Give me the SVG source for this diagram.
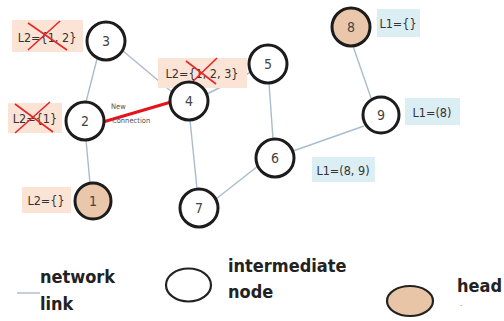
<svg xmlns="http://www.w3.org/2000/svg" width="504" height="321" viewBox="0 0 504 321">
<style>
.edge{stroke:#a9bccd;stroke-width:1.4;fill:none}
.node{stroke:#1c1c1c;stroke-width:3;fill:#ffffff}
.head{stroke:#1c1c1c;stroke-width:3;fill:#eac7ab}
.num{font-family:"DejaVu Sans Condensed","DejaVu Sans",sans-serif;font-size:14px;fill:#444;text-anchor:middle;dominant-baseline:central}
.lbl{font-family:"DejaVu Sans Condensed","DejaVu Sans",sans-serif;font-size:12.5px;fill:#333;text-anchor:middle;dominant-baseline:central}
.l2{fill:#fbe4d5}
.l1{fill:#dbeef4}
.x{stroke:#e5262b;stroke-width:1.6;fill:none}
.leg{font-family:"DejaVu Sans Condensed","DejaVu Sans",sans-serif;font-weight:bold;font-size:18px;fill:#222}
.small{font-family:"DejaVu Sans Condensed","DejaVu Sans",sans-serif;font-size:7.5px;fill:#555}
</style>
<rect width="504" height="321" fill="#ffffff"/>
<g id="connectors">
<line class="edge" x1="97" y1="59" x2="86" y2="102"/>
<line class="edge" x1="123" y1="51" x2="172" y2="92"/>
<line class="edge" x1="207" y1="94" x2="251" y2="72"/>
<line class="edge" x1="86" y1="140" x2="90" y2="183"/>
<line class="edge" x1="190" y1="120" x2="197" y2="189"/>
<line class="edge" x1="269" y1="83" x2="273" y2="139"/>
<line class="edge" x1="216" y1="199" x2="258" y2="166"/>
<line class="edge" x1="293" y1="151" x2="364" y2="126"/>
<line class="edge" x1="353" y1="46" x2="371" y2="98"/>
<line x1="103" y1="122" x2="171" y2="102" stroke="#e5141c" stroke-width="3"/>
<text class="small" x="111" y="109">New</text>
<text class="small" x="112" y="123">Connection</text>
</g>
<g id="label-l2-3">
<rect class="l2" x="12" y="20" width="71" height="32"/>
<text class="lbl" x="47" y="37">L2={1, 2}</text>
<line class="x" x1="28" y1="23" x2="67" y2="50"/>
<line class="x" x1="60" y1="21" x2="28" y2="50"/>
</g>
<g id="label-l2-4">
<rect class="l2" x="158" y="58" width="89" height="30"/>
<text class="lbl" x="202" y="73">L2={1, 2, 3}</text>
<line class="x" x1="186" y1="61" x2="216" y2="84"/>
<line class="x" x1="217" y1="58" x2="184" y2="90"/>
</g>
<g id="label-l2-2">
<rect class="l2" x="8" y="103" width="54" height="30"/>
<text class="lbl" x="35" y="118">L2={1}</text>
<line class="x" x1="15" y1="104" x2="53" y2="132"/>
<line class="x" x1="50" y1="102" x2="15" y2="133"/>
</g>
<g id="label-l2-1">
<rect class="l2" x="22" y="187" width="49" height="26"/>
<text class="lbl" x="46" y="200">L2={}</text>
</g>
<g id="label-l1-8">
<rect class="l1" x="377" y="9" width="43" height="28"/>
<text class="lbl" x="398" y="23">L1={}</text>
</g>
<g id="label-l1-9">
<rect class="l1" x="405" y="98" width="55" height="27"/>
<text class="lbl" x="432" y="112">L1=(8)</text>
</g>
<g id="label-l1-6">
<rect class="l1" x="312" y="157" width="63" height="25"/>
<text class="lbl" x="343" y="170">L1=(8, 9)</text>
</g>
<g id="node-1"><circle class="head" cx="93" cy="201" r="18"/><text class="num" x="93" y="201">1</text></g>
<g id="node-2"><circle class="node" cx="85" cy="121" r="19"/><text class="num" x="85" y="121">2</text></g>
<g id="node-3"><circle class="node" cx="106" cy="41" r="19"/><text class="num" x="106" y="41">3</text></g>
<g id="node-4"><circle class="node" cx="189" cy="101" r="19"/><text class="num" x="189" y="101">4</text></g>
<g id="node-5"><circle class="node" cx="268" cy="64" r="19"/><text class="num" x="268" y="64">5</text></g>
<g id="node-6"><circle class="node" cx="275" cy="158" r="19"/><text class="num" x="275" y="158">6</text></g>
<g id="node-7"><circle class="node" cx="199" cy="208" r="19"/><text class="num" x="199" y="208">7</text></g>
<g id="node-8"><circle class="head" cx="351" cy="27" r="19"/><text class="num" x="351" y="27">8</text></g>
<g id="node-9"><circle class="node" cx="381" cy="115" r="18"/><text class="num" x="381" y="115">9</text></g>
<g id="legend">
<line class="edge" x1="17" y1="293" x2="40" y2="293"/>
<text class="leg" x="40" y="283">network</text>
<text class="leg" x="40" y="310">link</text>
<ellipse cx="188.5" cy="285" rx="22.5" ry="16.5" fill="#ffffff" stroke="#222" stroke-width="2.2"/>
<text class="leg" x="228" y="272">intermediate</text>
<text class="leg" x="228" y="298">node</text>
<ellipse cx="410" cy="301" rx="23" ry="15" fill="#e8c5a6" stroke="#222" stroke-width="2.2"/>
<text class="leg" x="457" y="292">head</text>
<text class="small" x="460" y="306" fill="#999">.</text>
</g>
</svg>
